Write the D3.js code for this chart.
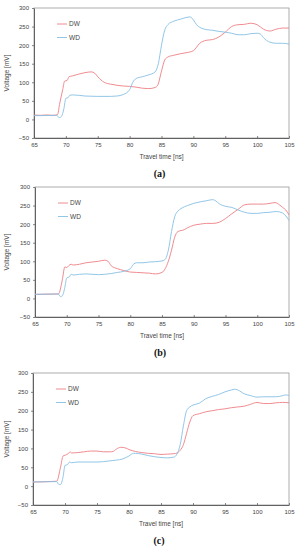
<!DOCTYPE html>
<html>
<head>
<meta charset="utf-8">
<script src="https://cdn.jsdelivr.net/npm/d3@7"></script>
<style>
  body { margin: 0; background: #fff; }
  svg { display: block; }
</style>
</head>
<body>
<svg id="chart" width="300" height="550"></svg>
<script>
const xTicks = [65, 70, 75, 80, 85, 90, 95, 100, 105];
const yTicks = [-50, 0, 50, 100, 150, 200, 250, 300];
const seriesNames = ["DW", "WD"];
const seriesColors = ["#ec7f85", "#86bfe4"];
const panelLabels = ["(a)", "(b)", "(c)"];

// panel a
const dwA = [[65,12],[66,11],[67,12],[68,11],[68.7,13],[69,40],[69.5,80],[69.8,103],[70.2,105],[70.5,115],[71,117],[72,122],[73,126],[74,128],[74.5,125],[75,115],[76,100],[77,95],[78,92],[79,90],[80,89],[81,87],[82,84],[83,83],[84,86],[84.4,92],[85,130],[85.5,160],[86,168],[87,173],[88,177],[89,180],[90,185],[91,205],[92,213],[93,215],[94,222],[95,235],[96,250],[97,255],[98,256],[99,259],[100,255],[101,243],[102,238],[103,243],[104,246],[105,246]];
const wdA = [[65,10],[68.5,11],[69,5],[69.3,8],[69.7,30],[70,57],[70.3,58],[70.6,65],[71,66],[72,65],[73,63],[75,62],[77,62],[78,63],[79,67],[80,80],[80.5,100],[81,110],[82,115],[83,120],[84,128],[84.5,150],[85,200],[85.5,240],[86,255],[87,265],[88,270],[89,275],[89.5,276],[90,268],[90.5,255],[91,248],[92,242],[93,240],[94,237],[95,235],[96,232],[97,228],[98,228],[99,231],[100,232],[100.5,230],[101,220],[102,208],[103,205],[104,205],[105,203]];

// panel b
const dwB = [[65,11],[68.7,12],[69.3,50],[69.7,85],[70,83],[70.3,88],[70.7,92],[71,90],[72,92],[73,96],[74,98],[75,100],[76,103],[76.5,100],[77,88],[78,80],[79,75],[80,71],[81,70],[82,69],[83,68],[84,66],[85,70],[85.5,80],[86,100],[86.5,130],[87,165],[87.5,180],[88.5,185],[89,190],[90,197],[91,200],[92,202],[93,202],[94,205],[95,215],[96,228],[97,240],[98,252],[99,254],[100,254],[101,254],[102,256],[102.8,258],[103.5,252],[104,245],[104.5,238],[105,225]];
const wdB = [[65,11],[68.7,12],[69,5],[69.3,7],[69.7,30],[70,55],[70.4,58],[70.7,65],[71,63],[72,65],[73,66],[74,65],[75,64],[76,65],[77,67],[78,70],[79,73],[80,80],[80.5,92],[81,96],[82,96],[83,98],[84,99],[85,101],[85.5,105],[86,130],[86.5,180],[87,220],[87.5,235],[88,242],[89,250],[90,256],[91,260],[92,263],[93,266],[93.5,262],[94,255],[95,248],[96,245],[97,238],[98,232],[99,229],[100,229],[101,231],[102,232],[103,234],[104,230],[104.5,222],[105,210]];

// panel c
const dwC = [[65,11],[68.7,13],[69.3,50],[69.7,80],[70,82],[70.5,86],[70.8,91],[71,88],[72,89],[73,91],[74,93],[75,93],[76,91],[77,91],[77.5,92],[78,98],[78.7,103],[79.5,101],[80,97],[81,92],[82,89],[83,87],[84,86],[85,84],[86,85],[87,86],[87.5,88],[88,95],[88.5,110],[89,140],[89.5,170],[90,187],[91,192],[92,197],[93,200],[94,203],[95,205],[96,208],[97,210],[98,212],[99,217],[100,222],[101,219],[102,219],[103,221],[104,222],[105,221]];
const wdC = [[65,11],[68.7,12],[69,5],[69.3,4],[69.7,25],[70,55],[70.4,57],[70.7,64],[71,62],[72,64],[73,64],[74,64],[75,64],[76,65],[77,67],[78,69],[79,72],[80,80],[80.7,87],[81,87],[82,85],[83,81],[84,78],[85,76],[86,75],[87,77],[87.5,85],[88,110],[88.5,160],[89,200],[89.5,210],[90,215],[91,220],[92,232],[93,238],[94,243],[95,250],[96,255],[96.5,257],[97,255],[98,245],[99,240],[100,236],[101,237],[102,237],[103,237],[104,240],[104.5,242],[105,240]];

const panels = [
  { top: 8, bottom: 138, left: 34, right: 289, series: [dwA, wdA], legendY: 24 },
  { top: 187, bottom: 317, left: 35, right: 289, series: [dwB, wdB], legendY: 203 },
  { top: 373, bottom: 505, left: 33, right: 289, series: [dwC, wdC], legendY: 389 }
];

const svg = d3.select("#chart");
const font = "Arial, 'Liberation Sans', sans-serif";

panels.forEach((p, i) => {
  const x = d3.scaleLinear().domain([65, 105]).range([p.left, p.right]);
  const y = d3.scaleLinear().domain([-50, 300]).range([p.bottom, p.top]);
  const g = svg.append("g");

  // frame
  g.append("rect")
    .attr("x", p.left).attr("y", p.top)
    .attr("width", p.right - p.left).attr("height", p.bottom - p.top)
    .attr("fill", "none").attr("stroke", "#999").attr("stroke-width", 0.8);

  const xAxis = g.append("g")
    .attr("transform", `translate(0,${p.bottom})`)
    .call(d3.axisBottom(x).tickValues(xTicks).tickSizeInner(-2).tickSizeOuter(0).tickPadding(5));
  const yAxis = g.append("g")
    .attr("transform", `translate(${p.left},0)`)
    .call(d3.axisLeft(y).tickValues(yTicks).tickSize(2).tickSizeOuter(0).tickPadding(3));

  [xAxis, yAxis].forEach(a => {
    a.select(".domain").attr("stroke", "#555").attr("stroke-width", 0.9);
    a.selectAll(".tick line").attr("stroke", "#555").attr("stroke-width", 0.7);
    a.selectAll(".tick text").attr("font-size", 6).attr("font-family", font).attr("fill", "#444");
  });

  g.append("text")
    .attr("x", (p.left + p.right) / 2).attr("y", p.bottom + 21)
    .attr("text-anchor", "middle").attr("font-size", 6.5).attr("font-family", font).attr("fill", "#444")
    .text("Travel time [ns]");

  g.append("text")
    .attr("transform", `translate(9,${(p.top + p.bottom) / 2}) rotate(-90)`)
    .attr("text-anchor", "middle").attr("font-size", 6.5).attr("font-family", font).attr("fill", "#444")
    .text("Voltage [mV]");

  const line = d3.line().x(d => x(d[0])).y(d => y(d[1])).curve(d3.curveMonotoneX);
  p.series.forEach((s, k) => {
    g.append("path").datum(s)
      .attr("d", line)
      .attr("fill", "none").attr("stroke", seriesColors[k]).attr("stroke-width", 0.9);
  });

  // legend
  seriesNames.forEach((name, k) => {
    const ly = p.legendY + k * 13.5;
    g.append("line")
      .attr("x1", p.left + 23).attr("x2", p.left + 33)
      .attr("y1", ly).attr("y2", ly)
      .attr("stroke", seriesColors[k]).attr("stroke-width", 0.9);
    g.append("text")
      .attr("x", p.left + 35).attr("y", ly + 2.2)
      .attr("font-size", 6.5).attr("font-family", font).attr("fill", "#444")
      .text(name);
  });

  g.append("text")
    .attr("x", (p.left + p.right) / 2 - 2).attr("y", p.bottom + 39)
    .attr("text-anchor", "middle").attr("font-size", 10).attr("font-weight", "bold")
    .attr("font-family", "'Liberation Serif', 'DejaVu Serif', serif").attr("fill", "#111")
    .text(panelLabels[i]);
});
</script>
</body>
</html>
